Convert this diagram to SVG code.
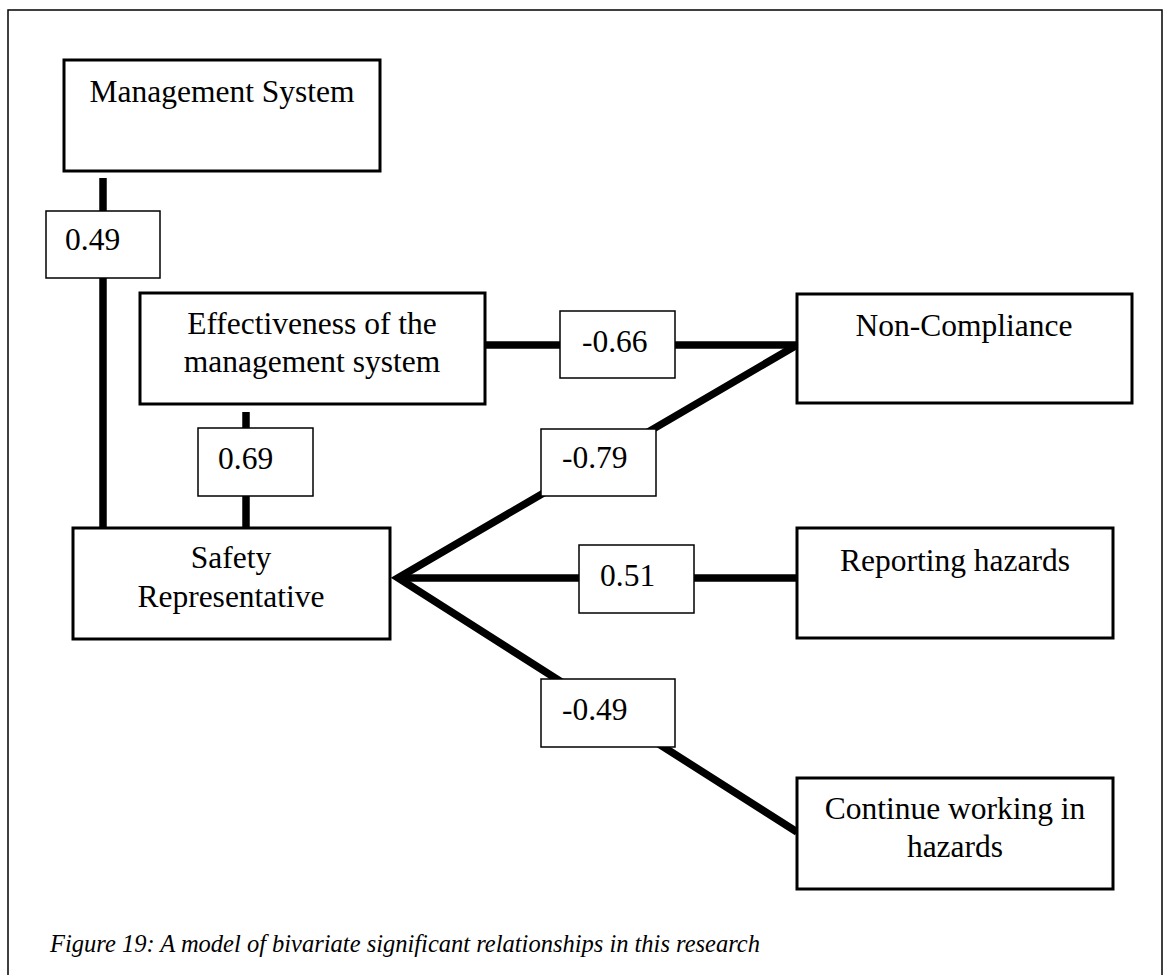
<svg xmlns="http://www.w3.org/2000/svg" width="1166" height="975" viewBox="0 0 1166 975">
<style>
.node{fill:#fff;stroke:#000;stroke-width:3}
.lbl{fill:#fff;stroke:#000;stroke-width:1.5}
.t{font-family:"Liberation Serif","Times New Roman",serif;font-size:31.5px;fill:#000}
.c{text-anchor:middle}
.conn{stroke:#000;stroke-width:7.5;fill:none}
.cap{font-family:"Liberation Serif","Times New Roman",serif;font-size:24.5px;font-style:italic;fill:#000}
</style>
<rect x="0" y="0" width="1166" height="975" fill="#fff"/>
<rect x="8" y="10" width="1154" height="1000" fill="none" stroke="#000" stroke-width="1.5"/>
<g id="connectors">
<line class="conn" x1="103" y1="178" x2="103" y2="528"/>
<line class="conn" x1="246" y1="412" x2="246" y2="528"/>
<line class="conn" x1="485" y1="345" x2="797" y2="345"/>
<polyline class="conn" stroke-linejoin="miter" points="797,345 398,578 797,832"/>
<line class="conn" x1="398" y1="578" x2="797" y2="578"/>
</g>
<g id="management-system">
<rect class="node" x="64" y="60" width="316" height="111"/>
<text class="t c" x="222" y="102">Management System</text>
</g>
<g id="effectiveness">
<rect class="node" x="140" y="293" width="345" height="111"/>
<text class="t c" x="312" y="334">Effectiveness of the</text>
<text class="t c" x="312" y="372">management system</text>
</g>
<g id="non-compliance">
<rect class="node" x="797" y="294" width="335" height="109"/>
<text class="t c" x="964" y="336">Non-Compliance</text>
</g>
<g id="safety-representative">
<rect class="node" x="73" y="528" width="317" height="111"/>
<text class="t c" x="231" y="568">Safety</text>
<text class="t c" x="231" y="607">Representative</text>
</g>
<g id="reporting-hazards">
<rect class="node" x="797" y="528" width="316" height="110"/>
<text class="t c" x="955" y="571">Reporting hazards</text>
</g>
<g id="continue-working">
<rect class="node" x="797" y="778" width="316" height="111"/>
<text class="t c" x="955" y="819">Continue working in</text>
<text class="t c" x="955" y="857">hazards</text>
</g>
<g id="label-049">
<rect class="lbl" x="46" y="211" width="114" height="67"/>
<text class="t" x="65" y="250">0.49</text>
</g>
<g id="label-069">
<rect class="lbl" x="198" y="428" width="115" height="68"/>
<text class="t" x="218" y="469">0.69</text>
</g>
<g id="label-066">
<rect class="lbl" x="560" y="311" width="115" height="67"/>
<text class="t" x="582" y="352">-0.66</text>
</g>
<g id="label-079">
<rect class="lbl" x="541" y="429" width="115" height="67"/>
<text class="t" x="562" y="468">-0.79</text>
</g>
<g id="label-051">
<rect class="lbl" x="579" y="545" width="115" height="68"/>
<text class="t" x="600" y="586">0.51</text>
</g>
<g id="label-m049">
<rect class="lbl" x="541" y="679" width="134" height="68"/>
<text class="t" x="562" y="720">-0.49</text>
</g>
<text class="cap" x="50" y="952">Figure 19: A model of bivariate significant relationships in this research</text>
</svg>
